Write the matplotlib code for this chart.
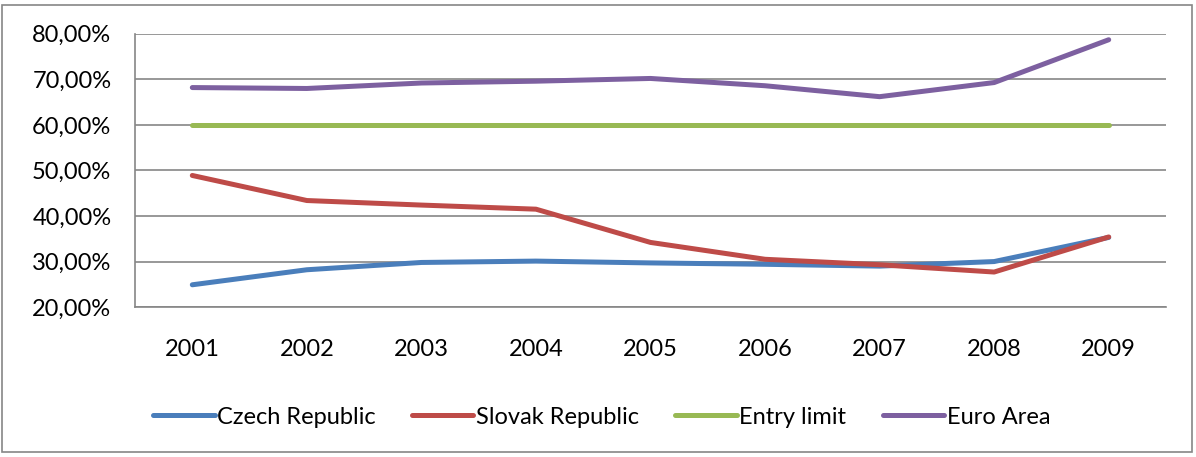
import matplotlib.pyplot as plt
from matplotlib.patches import Rectangle
from matplotlib.ticker import FuncFormatter

years = ["2001", "2002", "2003", "2004", "2005", "2006", "2007", "2008", "2009"]
czech = [24.9, 28.2, 29.8, 30.1, 29.7, 29.4, 29.0, 30.0, 35.3]
slovak = [48.9, 43.4, 42.4, 41.5, 34.2, 30.5, 29.3, 27.7, 35.4]
entry_limit = [60.0, 60.0, 60.0, 60.0, 60.0, 60.0, 60.0, 60.0, 60.0]
euro_area = [68.2, 68.0, 69.2, 69.6, 70.2, 68.6, 66.2, 69.3, 78.7]

series = [
    ("Czech Republic", czech, "#4a7ebb"),
    ("Slovak Republic", slovak, "#be4b48"),
    ("Entry limit", entry_limit, "#98b954"),
    ("Euro Area", euro_area, "#7d60a0"),
]

plt.rcParams["font.family"] = ["Lato", "DejaVu Sans"]

fig = plt.figure(figsize=(11.96, 4.57), dpi=100)
ax = fig.add_axes([0.1129, 0.328, 0.862, 0.598])

x = range(len(years))
for name, vals, col in series:
    ax.plot(x, vals, color=col, lw=3.6, solid_capstyle="round", label=name)

ax.set_xlim(-0.5, len(years) - 0.5)
ax.set_ylim(20, 80)
ax.set_yticks(range(20, 81, 10))
ax.yaxis.set_major_formatter(FuncFormatter(lambda v, p: f"{v:.2f}%".replace(".", ",")))
ax.set_xticks(list(x))
ax.set_xticklabels(years)
ax.tick_params(axis="both", length=0, labelsize=17, colors="black")
ax.tick_params(axis="x", pad=23)
ax.tick_params(axis="y", pad=17)

ax.grid(axis="y", color="#868686", lw=1.2)
ax.set_axisbelow(True)
for s in ["top", "right"]:
    ax.spines[s].set_visible(False)
for s in ["left", "bottom"]:
    ax.spines[s].set_color("#868686")
    ax.spines[s].set_linewidth(1.2)

fig.legend(loc="center", bbox_to_anchor=(0.503, 0.087), ncol=4, frameon=False,
           fontsize=17, handlelength=2.6, handletextpad=0.1, columnspacing=1.55)

# chart area border
fig.patches.append(Rectangle((0.002, 0.012), 0.995, 0.976, transform=fig.transFigure,
                             fill=False, edgecolor="#868686", lw=1.2))

fig.savefig("out.png", dpi=100)
